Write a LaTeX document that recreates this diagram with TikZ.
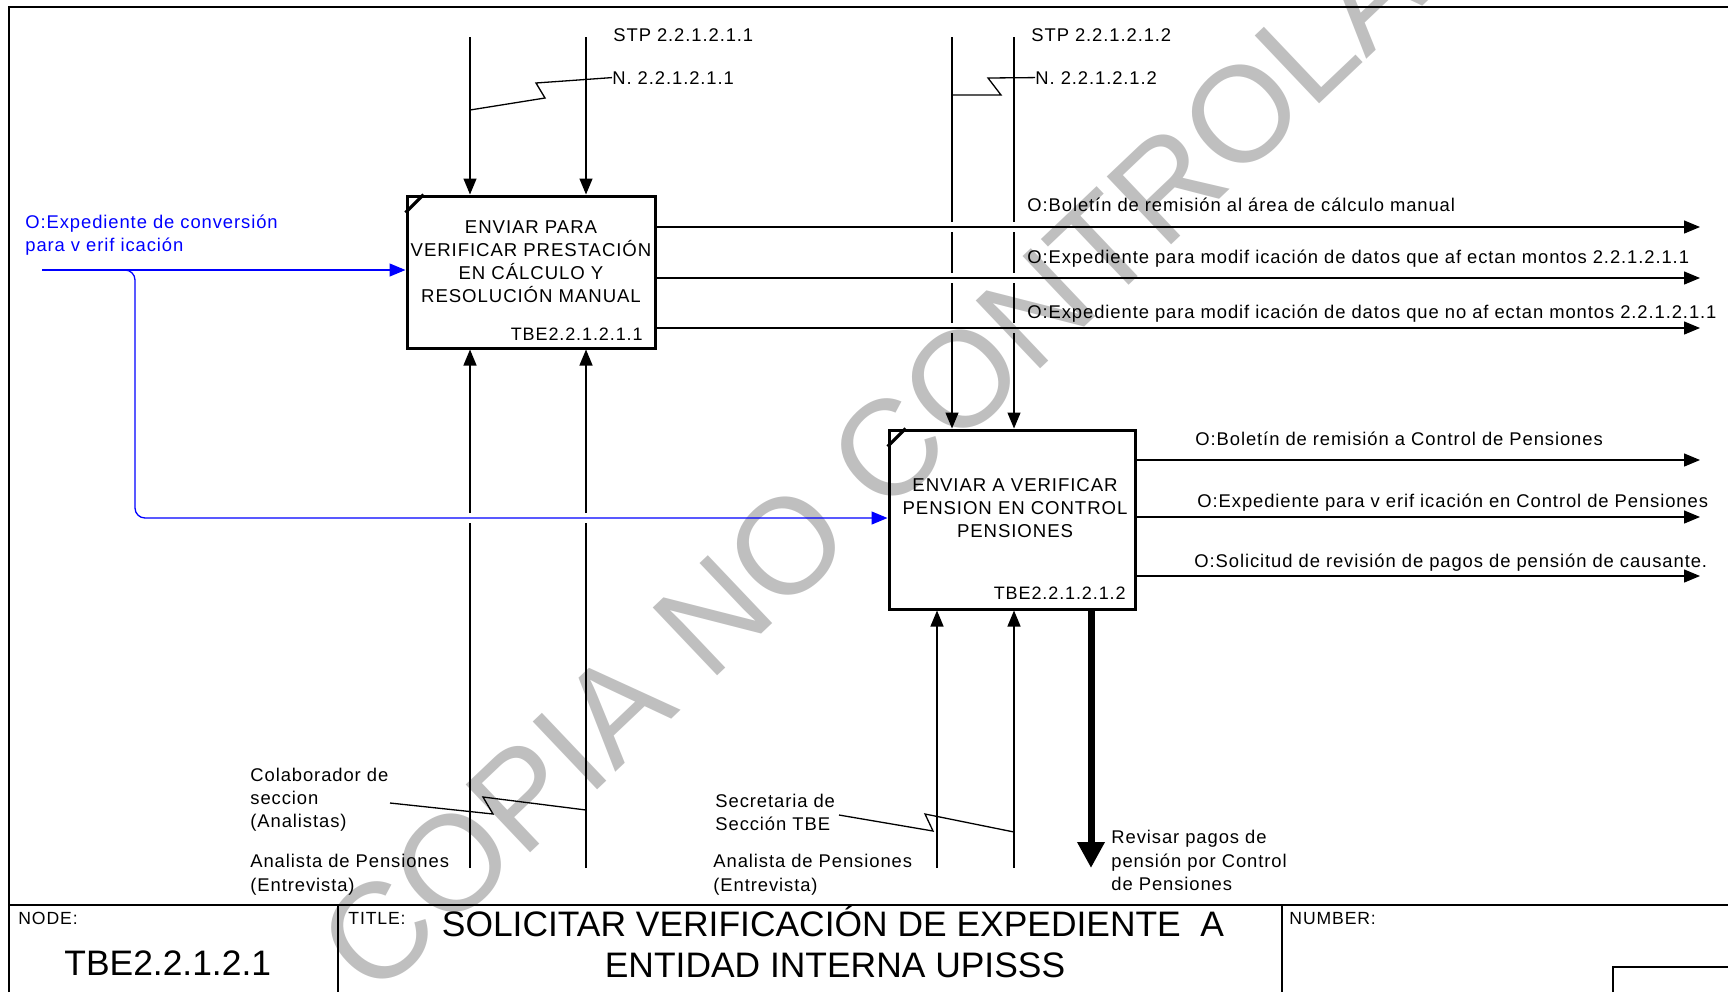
\documentclass[tikz,border=0pt]{standalone}
\usepackage{fontspec}
\setmainfont{Liberation Sans}[LetterSpace=5]
\newfontfamily\wmfont{Liberation Sans}
\newfontfamily\plainfont{Liberation Sans}
\usetikzlibrary{arrows.meta}
\begin{document}
\begin{tikzpicture}[x=0.5pt,y=-0.5pt,
  ln/.style={line width=0.65pt},
  arr/.style={-{Triangle[length=8pt,width=6.5pt]}},
  box/.style={draw,line width=1.5pt,inner sep=0},
  lbl/.style={anchor=base west,inner sep=0,font=\fontsize{9.2}{11}\selectfont},
  btxt/.style={anchor=base,inner sep=0,font=\fontsize{9.3}{11}\selectfont},
  idtxt/.style={anchor=base east,inner sep=0,font=\fontsize{9}{11}\selectfont},
  small/.style={anchor=base west,inner sep=0,font=\fontsize{8.8}{10}\selectfont},
  big/.style={inner sep=0,font=\plainfont\fontsize{17.7}{20}\selectfont},
  frame/.style={line width=1pt}]
\useasboundingbox (0,0) rectangle (1728,992);

% watermark
\node[rotate=43.5,inner sep=0,text=black!25,font=\wmfont\fontsize{68}{68}\selectfont] (wm) at (940,400) {COPIA NO CONTROLADA};

% frame
\draw[frame] (9,992) -- (9,7) -- (1728,7);
\draw[frame] (9,905) -- (1728,905);
\draw[frame] (338,905) -- (338,992);
\draw[frame] (1282,905) -- (1282,992);
\draw[frame] (1613,992) -- (1613,967) -- (1728,967);

% boxes
\node[box,minimum width=124pt,minimum height=76pt] (b1) at (531,272) {};
\node[box,minimum width=123pt,minimum height=89.5pt] (b2) at (1012,519.5) {};
\draw[line width=1.6pt] ([yshift=-9pt]b1.north west) -- ([xshift=9pt]b1.north west);
\draw[line width=1.6pt] ([yshift=-9pt]b2.north west) -- ([xshift=9pt]b2.north west);

% box texts
\node[btxt] (t1a) at (531,233) {ENVIAR PARA};
\node[btxt] (t1b) at (531,256) {VERIFICAR PRESTACIÓN};
\node[btxt] (t1c) at (531,279) {EN CÁLCULO Y};
\node[btxt] (t1d) at (531,302) {RESOLUCIÓN MANUAL};
\node[idtxt] (id1) at (643,340) {TBE2.2.1.2.1.1};
\node[btxt] (t2a) at (1015,491) {ENVIAR A VERIFICAR};
\node[btxt] (t2b) at (1015,514) {PENSION EN CONTROL};
\node[btxt] (t2c) at (1015,537) {PENSIONES};
\node[idtxt] (id2) at (1126,599) {TBE2.2.1.2.1.2};

% controls box 1
\coordinate (c1) at (470,37);
\coordinate (c2) at (586,37);
\draw[ln,arr] (c1) -- (c1 |- b1.north);
\draw[ln,arr] (c2) -- (c2 |- b1.north);
% controls box 2 (gaps at crossings)
\coordinate (c3) at (952,37);
\coordinate (c4) at (1014,37);
\draw[ln] (c3) -- (952,222) (952,232) -- (952,273) (952,283) -- (952,323);
\draw[ln,arr] (952,333) -- (c3 |- b2.north);
\draw[ln] (c4) -- (1014,222) (1014,232) -- (1014,273) (1014,283) -- (1014,323);
\draw[ln,arr] (1014,333) -- (c4 |- b2.north);

% labels of controls
\node[lbl] (stp1) at (613,41) {STP 2.2.1.2.1.1};
\node[lbl] (n1) at (612,84) {N. 2.2.1.2.1.1};
\node[lbl] (stp2) at (1031,41) {STP 2.2.1.2.1.2};
\node[lbl] (n2) at (1035,84) {N. 2.2.1.2.1.2};
\draw[ln] (n1.west) -- (536,83) -- (545,98) -- (470,110);
\draw[ln] (n2.west) -- (988,78) -- (1001,95) -- (952,95);

% outputs box 1
\coordinate (o1) at (1700,227);
\coordinate (o2) at (1700,278);
\coordinate (o3) at (1700,328);
\draw[ln,arr] (b1.east |- o1) -- (o1);
\draw[ln,arr] (b1.east |- o2) -- (o2);
\draw[ln,arr] (b1.east |- o3) -- (o3);
\node[lbl] (lo1) at (1027,211) {O:Boletín de remisión al área de cálculo manual};
\node[lbl] (lo2) at (1027,263) {O:Expediente para modif icación de datos que af ectan montos 2.2.1.2.1.1};
\node[lbl] (lo3) at (1027,318) {O:Expediente para modif icación de datos que no af ectan montos 2.2.1.2.1.1};

% outputs box 2
\coordinate (o4) at (1700,460);
\coordinate (o5) at (1700,517);
\coordinate (o6) at (1700,576);
\draw[ln,arr] (b2.east |- o4) -- (o4);
\draw[ln,arr] (b2.east |- o5) -- (o5);
\draw[ln,arr] (b2.east |- o6) -- (o6);
\node[lbl] (lo4) at (1195,445) {O:Boletín de remisión a Control de Pensiones};
\node[lbl] (lo5) at (1197,507) {O:Expediente para v erif icación en Control de Pensiones};
\node[lbl] (lo6) at (1194,567) {O:Solicitud de revisión de pagos de pensión de causante.};

% input (blue)
\coordinate (i1) at (42,270);
\coordinate (bj) at (135,518);
\draw[ln,blue,arr] (i1) -- (i1 -| b1.west);
\draw[ln,blue,arr,rounded corners=5pt] (i1) -- (135,270) -- (bj) -- (b2.west |- bj);
\node[lbl,text=blue] (li1) at (25,228) {O:Expediente de conversión};
\node[lbl,text=blue] (li2) at (25,251) {para v erif icación};

% mechanisms box 1
\coordinate (m1) at (470,868);
\coordinate (m2) at (586,868);
\draw[ln] (m1) -- (470,523);
\draw[ln,arr] (470,513) -- (m1 |- b1.south);
\draw[ln] (m2) -- (586,523);
\draw[ln,arr] (586,513) -- (m2 |- b1.south);
% mechanisms box 2
\coordinate (m3) at (937,868);
\coordinate (m4) at (1014,868);
\draw[ln,arr] (m3) -- (m3 |- b2.south);
\draw[ln,arr] (m4) -- (m4 |- b2.south);
% thick output
\coordinate (o7) at (1091,868);
\draw[line width=3.5pt,-{Triangle[length=13pt,width=13pt]}] (b2.south -| o7) -- (o7);

% mechanism labels
\node[lbl] (col1) at (250,781) {Colaborador de};
\node[lbl] (col2) at (250,804) {seccion};
\node[lbl] (col3) at (250,827) {(Analistas)};
\node[lbl] (an1) at (250,867) {Analista de Pensiones};
\node[lbl] (an2) at (250,891) {(Entrevista)};
\draw[ln] (390,803) -- (493,814) -- (483,797) -- (m2 |- 0,810);
\node[lbl] (sec1) at (715,807) {Secretaria de};
\node[lbl] (sec2) at (715,830) {Sección TBE};
\node[lbl] (an3) at (713,867) {Analista de Pensiones};
\node[lbl] (an4) at (713,891) {(Entrevista)};
\draw[ln] (839,815) -- (933,831) -- (925,814) -- (m4 |- 0,832);
\node[lbl] (rv1) at (1111,843) {Revisar pagos de};
\node[lbl] (rv2) at (1111,867) {pensión por Control};
\node[lbl] (rv3) at (1111,890) {de Pensiones};

% title block
\node[small] (nodel) at (18,924) {NODE:};
\node[big,anchor=base west] (nodev) at (64,975) {TBE2.2.1.2.1};
\node[small] (titlel) at (348,924) {TITLE:};
\node[big,anchor=base] (title1) at (833,936) {SOLICITAR VERIFICACIÓN DE EXPEDIENTE\ \ A};
\node[big,anchor=base] (title2) at (835,977) {ENTIDAD INTERNA UPISSS};
\node[small] (numl) at (1289,924) {NUMBER:};
\end{tikzpicture}
\end{document}
